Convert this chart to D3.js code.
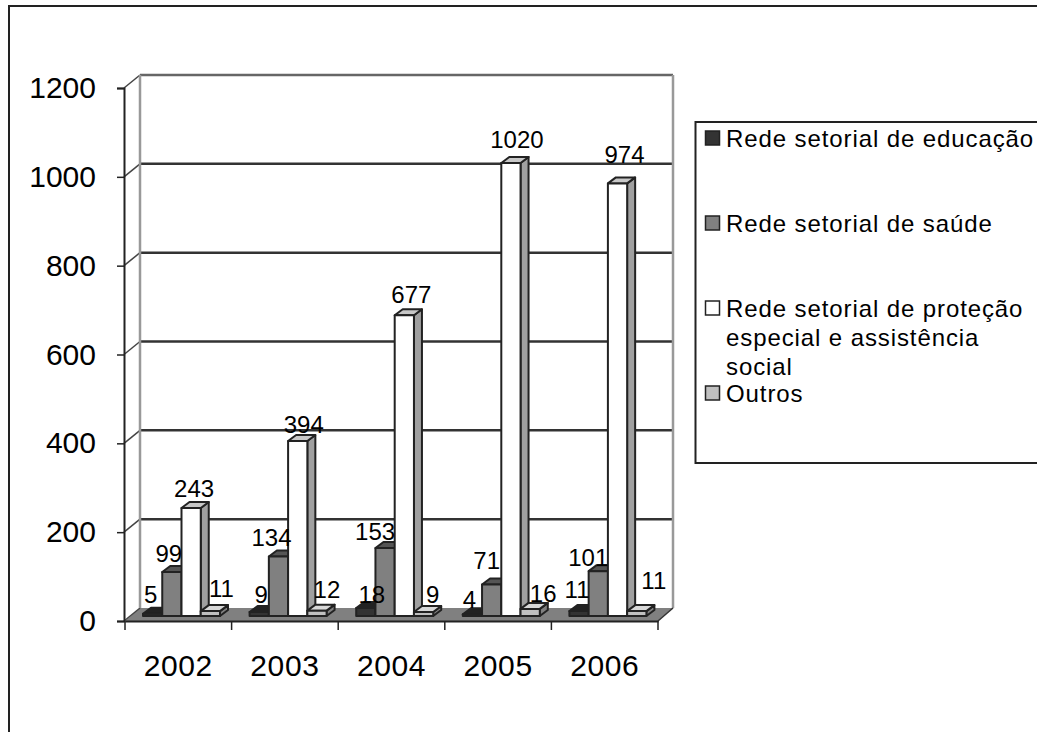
<!DOCTYPE html>
<html>
<head>
<meta charset="utf-8">
<script src="https://cdn.jsdelivr.net/npm/d3@7"></script>
<style>
  html, body { margin: 0; padding: 0; background: #fff; overflow: hidden; }
  text { font-family: "Liberation Sans", Arial, sans-serif; fill: #000; }
</style>
</head>
<body>
<main></main>
<script>
const years = ['2002', '2003', '2004', '2005', '2006'];
const seriesNames = ['Rede setorial de educação', 'Rede setorial de saúde', 'Rede setorial de proteção', 'Outros'];
const educacao = [5, 9, 18, 4, 11];
const saude = [99, 134, 153, 71, 101];
const protecao = [243, 394, 677, 1020, 974];
const outros = [11, 12, 9, 16, 11];
const yTicks = [0, 200, 400, 600, 800, 1000, 1200];

const sizeOfSVG = { width: 1037, height: 732 };
const depth = { x: 15, y: -13 };     // wall depth of the 3D box
const barDepth = { x: 8, y: -6 };
const barShift = -5;                 // bars stand a bit behind the front edge

const series = [
  { name: seriesNames[0], values: educacao, front: '#333333', top: '#222222', side: '#111111' },
  { name: seriesNames[1], values: saude, front: '#808080', top: '#555555', side: '#444444' },
  { name: seriesNames[2], values: protecao, front: '#ffffff', top: '#c8c8c8', side: '#a0a0a0' },
  { name: seriesNames[3], values: outros, front: '#c0c0c0', top: '#d8d8d8', side: '#808080' }
];

const svg = d3.select('main').append('svg')
  .attr('width', sizeOfSVG.width)
  .attr('height', sizeOfSVG.height)
  .style('display', 'block');

// page frame, runs off the right and bottom edge
svg.append('path')
  .attr('d', 'M9,740V6H1045')
  .attr('fill', 'none').attr('stroke', '#222').attr('stroke-width', 2);

const x = d3.scaleBand().domain(years).range([125, 658]);
const y = d3.scaleLinear().domain([0, 1200]).range([621, 88]);
const inner = d3.scaleBand().domain(d3.range(4)).range([18, 95]);

// floor
const y0 = y(0), x0 = x.range()[0], x1 = x.range()[1];
svg.append('polygon')
  .attr('points', [[x0, y0], [x1, y0], [x1 + depth.x, y0 + depth.y], [x0 + depth.x, y0 + depth.y]].join(' '))
  .attr('fill', '#808080');

// walls and gridlines
const grid = svg.append('g');
yTicks.slice(1).forEach(t => {
  grid.append('line')
    .attr('x1', x0 + depth.x).attr('x2', x1 + depth.x)
    .attr('y1', y(t) + depth.y).attr('y2', y(t) + depth.y)
    .attr('stroke', t === 1200 ? '#666' : '#333').attr('stroke-width', 2.5);
});
yTicks.forEach(t => {
  grid.append('line')
    .attr('x1', x0 - 1).attr('x2', x0 + depth.x)
    .attr('y1', y(t)).attr('y2', y(t) + depth.y)
    .attr('stroke', '#444').attr('stroke-width', 1.5);
});
[x0 + depth.x, x1 + depth.x].forEach(px => {
  grid.append('line')
    .attr('x1', px).attr('x2', px)
    .attr('y1', y(1200) + depth.y).attr('y2', y0 + depth.y)
    .attr('stroke', '#999').attr('stroke-width', 2.5);
});
grid.append('line')
  .attr('x1', x1).attr('x2', x1 + depth.x)
  .attr('y1', y0).attr('y2', y0 + depth.y)
  .attr('stroke', '#333').attr('stroke-width', 1.5);

// bars
const bars = svg.append('g');
series.forEach((s, si) => {
  s.values.forEach((v, i) => {
    const bx = x(years[i]) + inner(si);
    const w = inner.bandwidth();
    const base = y0 + barShift;
    const ty = base - (y0 - y(v));
    const g = bars.append('g')
      .attr('stroke', '#222').attr('stroke-width', 2).attr('stroke-linejoin', 'round');
    g.append('polygon')
      .attr('points', [[bx + w, base], [bx + w + barDepth.x, base + barDepth.y], [bx + w + barDepth.x, ty + barDepth.y], [bx + w, ty]].join(' '))
      .attr('fill', s.side);
    g.append('polygon')
      .attr('points', [[bx, ty], [bx + w, ty], [bx + w + barDepth.x, ty + barDepth.y], [bx + barDepth.x, ty + barDepth.y]].join(' '))
      .attr('fill', s.top);
    g.append('rect')
      .attr('x', bx).attr('y', ty).attr('width', w).attr('height', base - ty)
      .attr('fill', s.front);
  });
});

// axes
const yAxis = d3.axisLeft(y).tickValues(yTicks).tickSize(7).tickPadding(21).tickFormat(d3.format('d'));
const yG = svg.append('g').attr('transform', `translate(${x0 - 1},0)`).call(yAxis);
const xAxis = d3.axisBottom(x).tickSize(0).tickPadding(34);
const xG = svg.append('g').attr('transform', `translate(0,${y0})`).call(xAxis);
x.domain().concat(['end']).forEach((d, i) => {
  xG.append('line')
    .attr('x1', x0 + i * x.step()).attr('x2', x0 + i * x.step())
    .attr('y1', 0).attr('y2', 9)
    .attr('stroke', '#222').attr('stroke-width', 1.5);
});
[yG, xG].forEach(g => {
  g.selectAll('.domain').attr('stroke', '#222').attr('stroke-width', 2);
  g.selectAll('.tick line').attr('stroke', '#222').attr('stroke-width', 1.5);
  g.selectAll('text').attr('font-size', 30).attr('font-family', '"Liberation Sans", Arial, sans-serif');
});
xG.selectAll('text').style('letter-spacing', '0.6px');

// data labels, nudged by hand per series/year like the original
const labelDx = [[-2, 2, 6, -3, -2], [-3, -7, -10, -5, -10], [3, 6, 7, 6, 7], [11, 10, 9, 13, 17]];
const labelDy = [[2, 4, 8, 7, 0], [3, 3, 5, -2, 8], [2, 5, 1, -2, -7], [-1, 0, 4, 6, -9]];
const labels = svg.append('g').attr('font-size', 24).attr('text-anchor', 'middle');
series.forEach((s, si) => {
  s.values.forEach((v, i) => {
    labels.append('text')
      .attr('x', x(years[i]) + inner(si) + inner.bandwidth() / 2 + labelDx[si][i])
      .attr('y', y(v) + barShift - 13 + labelDy[si][i])
      .text(v);
  });
});

// legend
const legend = svg.append('g');
legend.append('path')
  .attr('d', 'M1045,122H695.5V463H1045')
  .attr('fill', '#fff').attr('stroke', '#222').attr('stroke-width', 2);
const legendRows = [
  { y: 147, lines: [seriesNames[0]] },
  { y: 232, lines: [seriesNames[1]] },
  { y: 317, lines: [seriesNames[2], 'especial e assistência', 'social'] },
  { y: 402, lines: [seriesNames[3]] }
];
legendRows.forEach((row, i) => {
  legend.append('rect')
    .attr('x', 705.5).attr('y', row.y - 16).attr('width', 14).attr('height', 14)
    .attr('fill', series[i].front).attr('stroke', '#222').attr('stroke-width', 1.5);
  row.lines.forEach((line, j) => {
    legend.append('text')
      .attr('x', 726).attr('y', row.y + j * 29)
      .attr('font-size', 24)
      .style('letter-spacing', '0.9px')
      .text(line);
  });
});
</script>
</body>
</html>
